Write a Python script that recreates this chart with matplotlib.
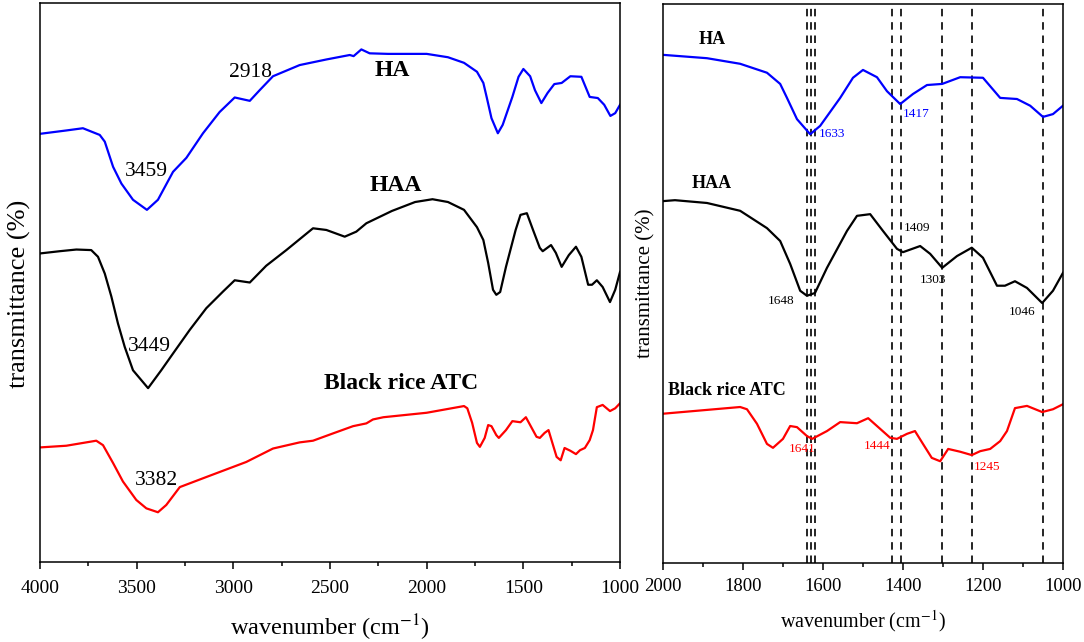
import matplotlib
matplotlib.use("Agg")
import matplotlib.pyplot as plt
from matplotlib.ticker import MultipleLocator

plt.rcParams['font.family'] = ['Liberation Serif', 'DejaVu Serif']
plt.rcParams['mathtext.fontset'] = 'stix'

# FTIR spectra (wavenumber cm-1, transmittance in arbitrary %)
ha_wn = [4000, 3864, 3778, 3691, 3665, 3622, 3579, 3519, 3447, 3390, 3312, 3243,
         3157, 3071, 2993, 2915, 2864, 2795, 2657, 2519, 2398, 2378, 2338, 2295,
         2200, 2097, 2000, 1890, 1807, 1740, 1707, 1690, 1665, 1632, 1607, 1557,
         1525, 1500, 1465, 1440, 1407, 1375, 1340, 1302, 1257, 1200, 1157, 1115,
         1082, 1050, 1025, 1000]
ha_t = [76.6, 77.2, 77.6, 76.4, 75.2, 70.7, 67.7, 64.8, 63.0, 64.8, 69.8, 72.3,
        76.7, 80.5, 83.1, 82.5, 84.4, 86.9, 88.9, 89.9, 90.7, 90.5, 91.7, 91.0,
        90.9, 90.9, 90.9, 90.3, 89.3, 87.7, 85.7, 83.2, 79.4, 76.7, 78.2, 83.2,
        86.8, 88.2, 86.9, 84.4, 82.1, 83.9, 85.5, 85.7, 86.9, 86.8, 83.2, 83.0,
        81.8, 79.8, 80.3, 81.8]

haa_wn = [4000, 3898, 3812, 3735, 3700, 3665, 3631, 3597, 3562, 3519, 3441, 3373,
          3312, 3226, 3140, 3053, 2993, 2915, 2830, 2726, 2588, 2519, 2424, 2364,
          2312, 2180, 2060, 1970, 1890, 1807, 1740, 1707, 1682, 1657, 1640, 1620,
          1590, 1540, 1515, 1482, 1450, 1415, 1400, 1357, 1332, 1302, 1265, 1228,
          1200, 1165, 1145, 1120, 1090, 1052, 1025, 1000]
haa_t = [55.2, 55.6, 55.9, 55.8, 54.6, 51.6, 47.5, 42.7, 38.5, 34.3, 31.1, 34.3,
         37.3, 41.5, 45.4, 48.4, 50.4, 50.0, 53.0, 55.8, 59.7, 59.4, 58.2, 59.1,
         60.6, 62.8, 64.4, 64.9, 64.4, 63.0, 59.9, 57.6, 53.5, 48.7, 47.8, 48.3,
         52.8, 59.4, 62.1, 62.4, 59.4, 56.2, 55.6, 56.7, 55.3, 52.8, 54.9, 56.4,
         54.6, 49.6, 49.6, 50.4, 49.2, 46.5, 48.7, 51.9]

atc_wn = [4000, 3864, 3709, 3674, 3622, 3571, 3502, 3450, 3390, 3347, 3277, 3140,
          2933, 2795, 2657, 2588, 2485, 2381, 2312, 2278, 2224, 2000, 1807, 1790,
          1765, 1740, 1725, 1700, 1682, 1665, 1640, 1627, 1590, 1557, 1515, 1487,
          1465, 1432, 1415, 1390, 1370, 1350, 1328, 1307, 1287, 1257, 1228, 1207,
          1182, 1157, 1140, 1120, 1090, 1052, 1025, 1000]
atc_t = [20.5, 20.8, 21.7, 20.9, 17.7, 14.4, 11.1, 9.6, 8.9, 10.2, 13.4, 15.2,
         17.9, 20.3, 21.4, 21.7, 23.0, 24.3, 24.8, 25.5, 25.9, 26.7, 27.9, 27.5,
         24.9, 21.3, 20.6, 22.2, 24.5, 24.3, 22.7, 22.2, 23.6, 25.2, 25.0, 25.9,
         24.5, 22.4, 22.2, 23.1, 23.6, 21.3, 18.8, 18.2, 20.4, 19.9, 19.3, 20.0,
         20.4, 21.8, 23.6, 27.7, 28.1, 27.0, 27.5, 28.4]

# marked band positions in the zoomed panel
band_lines = [1641, 1631, 1620, 1427, 1406, 1302, 1228, 1050]

spectra = [
    (ha_wn, ha_t, '#0000ff'),
    (haa_wn, haa_t, 'black'),
    (atc_wn, atc_t, '#ff0000'),
]

fig = plt.figure(figsize=(10.84, 6.42), dpi=100)
ax1 = fig.add_axes([0.0369, 0.1246, 0.5351, 0.8707])
ax2 = fig.add_axes([0.6116, 0.1231, 0.3690, 0.8707])

for ax in (ax1, ax2):
    for wn, t, c in spectra:
        ax.plot(wn, t, color=c, lw=1.6)
    ax.set_ylim(0, 100)
    ax.set_yticks([])
    for s in ax.spines.values():
        s.set_linewidth(1.1)
    ax.tick_params(axis='x', which='major', direction='out', length=5, width=1.1)
    ax.tick_params(axis='x', which='minor', direction='out', length=3, width=1.1)

# full spectrum panel
ax1.set_xlim(4000, 1000)
ax1.xaxis.set_major_locator(MultipleLocator(500))
ax1.xaxis.set_minor_locator(MultipleLocator(250))
ax1.tick_params(axis='x', labelsize=14, pad=8)
ax1.set_xlabel('wavenumber (cm$^{-1}$)', fontsize=17.5, labelpad=11)
ax1.set_ylabel('transmittance (%)', fontsize=19)
ax1.yaxis.set_label_coords(-0.015, 0.48)

bold = dict(fontweight='bold', ha='center', va='center')
ax1.text(2180, 88.0, 'HA', fontsize=17, **bold)
ax1.text(2161, 67.3, 'HAA', fontsize=17, **bold)
ax1.text(2135, 32.0, 'Black rice ATC', fontsize=17, **bold)
for lab, x, y in [('2918', 2909, 87.5), ('3459', 3450, 69.8),
                  ('3449', 3433, 38.6), ('3382', 3398, 14.5)]:
    ax1.text(x, y, lab, fontsize=15.5, ha='center', va='center')

# zoomed fingerprint panel
ax2.set_xlim(2000, 1000)
ax2.xaxis.set_major_locator(MultipleLocator(200))
ax2.xaxis.set_minor_locator(MultipleLocator(100))
ax2.tick_params(axis='x', labelsize=13.5, pad=6)
ax2.set_xlabel('wavenumber (cm$^{-1}$)', fontsize=14.5, labelpad=9)
ax2.set_ylabel('transmittance (%)', fontsize=15)
ax2.yaxis.set_label_coords(-0.018, 0.5)

for b in band_lines:
    ax2.axvline(b, color='black', lw=1.2, dashes=[4.5, 3.5], zorder=1)

ax2.text(1877, 93.6, 'HA', fontsize=13, **bold)
ax2.text(1877, 67.8, 'HAA', fontsize=13, **bold)
ax2.text(1840, 30.8, 'Black rice ATC', fontsize=13, **bold)
small = [('1633', 1577, 76.7, '#0000ff'), ('1417', 1367, 80.3, '#0000ff'),
         ('1648', 1705, 46.9, 'black'), ('1409', 1365, 59.9, 'black'),
         ('1303', 1325, 50.6, 'black'), ('1046', 1102, 44.9, 'black'),
         ('1641', 1652, 20.4, '#ff0000'), ('1444', 1465, 20.9, '#ff0000'),
         ('1245', 1190, 17.2, '#ff0000')]
for lab, x, y, c in small:
    ax2.text(x, y, lab, fontsize=9.5, color=c, ha='center', va='center')

fig.savefig('out.png', dpi=100)
